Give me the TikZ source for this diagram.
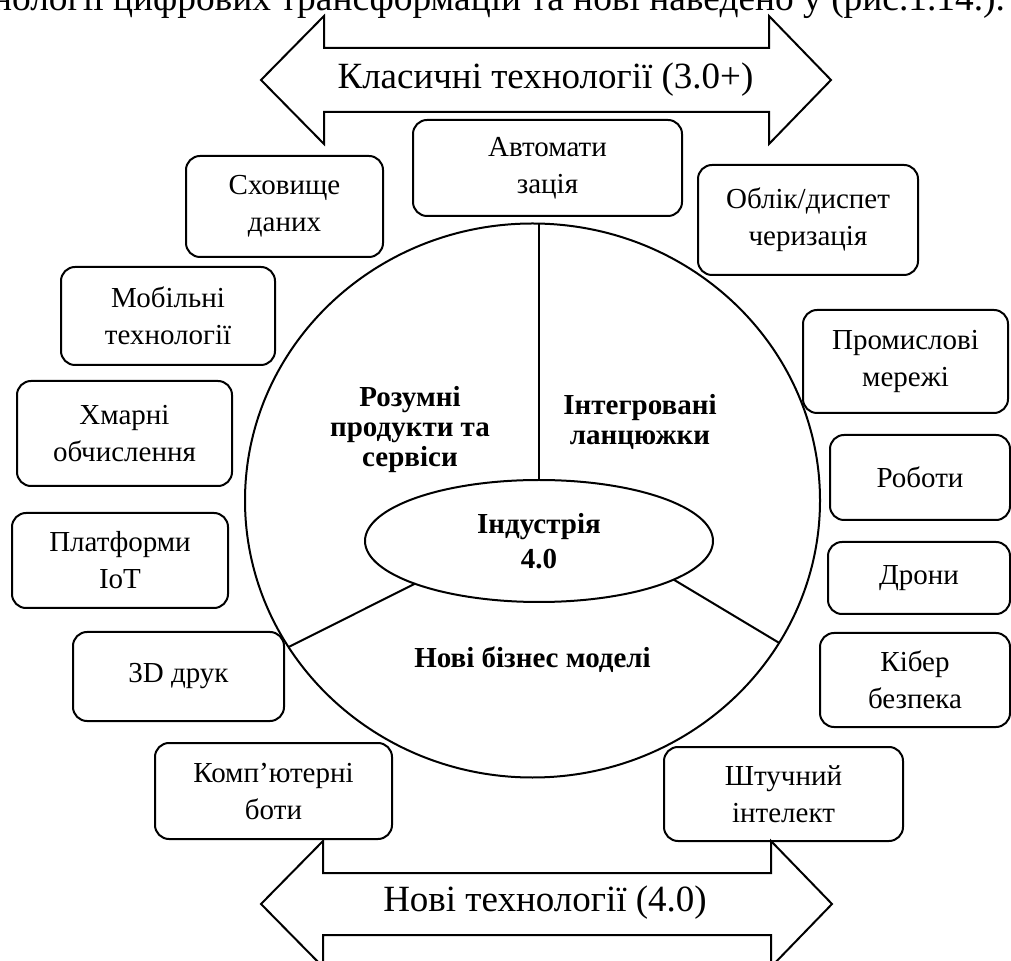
\documentclass[tikz,border=0pt]{standalone}
\usepackage{fontspec}
\setmainfont{Liberation Serif}
\usetikzlibrary{shapes.geometric}

\begin{document}
\begin{tikzpicture}[
    x=0.5pt, y=-0.5pt,
    line width=1pt,
    every node/.style={font=\fontsize{14.5}{18.5}\selectfont},
    techbox/.style={rectangle, draw, rounded corners=7pt, align=center, inner sep=0pt, fill=white},
    sectorlabel/.style={align=center, font=\fontsize{14.5}{15}\selectfont\bfseries},
    bigarrow/.style={draw, line join=miter, fill=white},
    arrowtext/.style={font=\fontsize{18.5}{22}\selectfont}
]
    \useasboundingbox (0,0) rectangle (1011,961);
    \clip (0,0) rectangle (1011,961);

    % Cut line of text above the figure
    \node[anchor=base east, inner sep=0pt, font=\fontsize{18.7}{22}\selectfont] (caption) at (1006,11)
        {технології цифрових трансформацій та нові наведено у (рис.1.14.).};

    % Circle and core
    \node[draw, ellipse, minimum width=287.5pt, minimum height=277pt, inner sep=0pt, outer sep=0pt] (ring) at (532.5,500.5) {};
    \node[draw, ellipse, fill=white, minimum width=174pt, minimum height=61pt, inner sep=0pt, outer sep=0pt, align=center,
          font=\fontsize{14.5}{17.5}\selectfont\bfseries] (core) at (539,541) {Індустрія\\4.0};

    % Sector dividers
    \draw (core.north) -- (core.north |- ring.north);
    \draw (core.199) -- (ring.211.5);
    \draw (core.344) -- (ring.330.5);

    % Sector labels
    \node[sectorlabel] (smart) at (410,430) {Розумні\\продукти та\\сервіси};
    \node[sectorlabel] (chains) at (640,422) {Інтегровані\\ланцюжки};
    \node[sectorlabel] (business) at (532.5,660) {Нові бізнес моделі};

    % Technology boxes - left side
    \node[techbox, minimum width=98.5pt, minimum height=50.5pt] (storage) at (284.5,206.5) {Сховище\\даних};
    \node[techbox, minimum width=107pt, minimum height=49pt] (mobile) at (168,316) {Мобільні\\технології};
    \node[techbox, minimum width=107.5pt, minimum height=52.5pt] (cloud) at (124.5,433.5) {Хмарні\\обчислення};
    \node[techbox, minimum width=108pt, minimum height=47.5pt] (iot) at (120,560.5) {Платформи\\IoT};
    \node[techbox, minimum width=105.5pt, minimum height=44.5pt] (print) at (178.5,676.5) {3D друк};
    \node[techbox, minimum width=118.5pt, minimum height=48pt] (bots) at (273.5,791) {Комп’ютерні\\боти};

    % Technology boxes - top and right side
    \node[techbox, minimum width=134.5pt, minimum height=48pt] (automation) at (547.5,168) {Автомати\\зація};
    \node[techbox, minimum width=110pt, minimum height=55pt] (dispatch) at (808,220) {Облік/диспет\\черизація};
    \node[techbox, minimum width=102.5pt, minimum height=51.5pt] (networks) at (905.5,361.5) {Промислові\\мережі};
    \node[techbox, minimum width=90pt, minimum height=42.5pt] (robots) at (920,477.5) {Роботи};
    \node[techbox, minimum width=91pt, minimum height=36pt] (drones) at (919,578) {Дрони};
    \node[techbox, minimum width=95pt, minimum height=47pt] (cyber) at (915,680) {Кібер\\безпека};
    \node[techbox, minimum width=119.5pt, minimum height=47pt] (ai) at (783.5,794) {Штучний\\інтелект};

    % Double arrows
    \draw[bigarrow] (261,80) -- (324,16) -- (324,48) -- (769,48) -- (769,16) -- (831,80)
        -- (769,144) -- (769,112) -- (324,112) -- (324,144) -- cycle;
    \node[arrowtext] (classic) at (545.5,80) {Класичні технології (3.0+)};

    \draw[bigarrow] (261,904) -- (323,841) -- (323,873) -- (771,873) -- (771,841) -- (832,904)
        -- (771,967) -- (771,935) -- (323,935) -- (323,967) -- cycle;
    \node[arrowtext] (newtech) at (545,903) {Нові технології (4.0)};

\end{tikzpicture}
\end{document}
